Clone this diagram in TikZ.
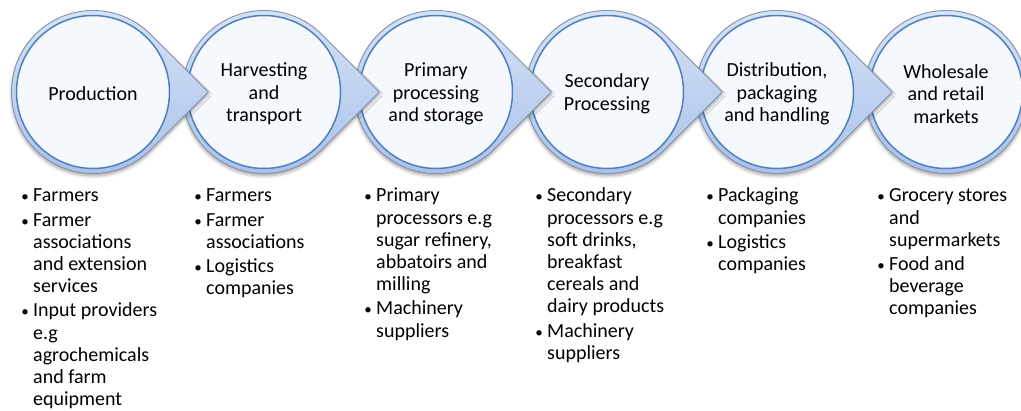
\documentclass[tikz,border=0pt]{standalone}
\usepackage{fontspec}
\setmainfont{Carlito}
\usetikzlibrary{shadows.blur}

\definecolor{ringtop}{RGB}{216,228,246}
\definecolor{ringbot}{RGB}{168,192,234}
\definecolor{edgegrey}{RGB}{130,146,170}
\definecolor{innerblue}{RGB}{79,129,189}
\definecolor{innerfill}{RGB}{245,248,253}

\tikzset{
  stageouter/.style={draw=edgegrey, line width=0.9pt,
    top color=ringtop, bottom color=ringbot,
    blur shadow={shadow xshift=0pt, shadow yshift=-2.5pt,
                 shadow blur radius=3pt, shadow opacity=35}},
  stageinner/.style={circle, draw=innerblue, line width=1.5pt,
    fill=innerfill, minimum size=153pt, inner sep=0pt},
  stagetext/.style={align=center, inner sep=0pt, yshift=-2pt,
    font=\fontsize{20}{22.5}\selectfont},
  actorlist/.style={anchor=base west, inner sep=0pt,
    font=\fontsize{20}{22.2}\selectfont}
}

% bullet cell of fixed width, small dot centred in it
\newcommand\bitem{\makebox[16pt][c]{\fontsize{15}{15}\selectfont\textbullet}}

% a stage: teardrop ring pointing right, with a text circle on it
\newcommand\stagewithtip[3]{%
  \path[stageouter] (#2,319) ++(45:81.5)
    arc[start angle=45, end angle=315, radius=81.5]
    -- (#2+115.3,319) -- cycle;
  \node[stageinner] (#1) at (#2,319) {};
  \node[stagetext] (#1t) at (#1.center) {#3};
}

\begin{document}
\begin{tikzpicture}[x=1pt,y=1pt]
\useasboundingbox (0,0) rectangle (1021,411);

% stages, drawn right to left so each tip lies over the next ring
\path[stageouter] (946,319) circle[radius=81.5];
\node[stageinner] (s6) at (946,319) {};
\node[stagetext] (s6t) at (s6.center) {Wholesale\\and retail\\markets};
\stagewithtip{s5}{777}{Distribution,\\packaging\\and handling}
\stagewithtip{s4}{607}{Secondary\\Processing}
\stagewithtip{s3}{436}{Primary\\processing\\and storage}
\stagewithtip{s2}{264}{Harvesting\\and\\transport}
\stagewithtip{s1}{93}{Production}

% actors at each stage
\node[actorlist] (l1) at (17,209) {\begin{tabular}[t]{@{}l@{}l@{}}
\bitem & Farmers\\[2pt]
\bitem & Farmer\\ & associations\\ & and extension\\ & services\\[2pt]
\bitem & Input providers\\ & e.g\\ & agrochemicals\\ & and farm\\ & equipment
\end{tabular}};

\node[actorlist] (l2) at (190,209) {\begin{tabular}[t]{@{}l@{}l@{}}
\bitem & Farmers\\[2pt]
\bitem & Farmer\\ & associations\\[2pt]
\bitem & Logistics\\ & companies
\end{tabular}};

\node[actorlist] (l3) at (360,209) {\begin{tabular}[t]{@{}l@{}l@{}}
\bitem & Primary\\ & processors e.g\\ & sugar refinery,\\ & abbatoirs and\\ & milling\\[2pt]
\bitem & Machinery\\ & suppliers
\end{tabular}};

\node[actorlist] (l4) at (531,209) {\begin{tabular}[t]{@{}l@{}l@{}}
\bitem & Secondary\\ & processors e.g\\ & soft drinks,\\ & breakfast\\ & cereals and\\ & dairy products\\[2pt]
\bitem & Machinery\\ & suppliers
\end{tabular}};

\node[actorlist] (l5) at (702,209) {\begin{tabular}[t]{@{}l@{}l@{}}
\bitem & Packaging\\ & companies\\[2pt]
\bitem & Logistics\\ & companies
\end{tabular}};

\node[actorlist] (l6) at (873,209) {\begin{tabular}[t]{@{}l@{}l@{}}
\bitem & Grocery stores\\ & and\\ & supermarkets\\[2pt]
\bitem & Food and\\ & beverage\\ & companies
\end{tabular}};
\end{tikzpicture}
\end{document}
